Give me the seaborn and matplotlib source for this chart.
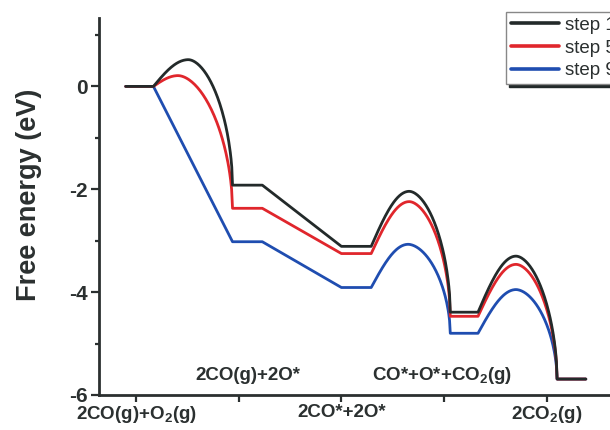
import numpy as np
import pandas as pd
import matplotlib
matplotlib.use("Agg")
import matplotlib.pyplot as plt
import seaborn as sns

# ---- data ----
steps = ["step 1", "step 5", "step 9"]
level_start = [-0.10, 0.94, 2.00, 3.06, 4.10]
level_end = [0.17, 1.23, 2.29, 3.33, 4.38]
energy_step1 = [0.0, -1.92, -3.11, -4.39, -5.69]
energy_step5 = [0.0, -2.37, -3.25, -4.47, -5.69]
energy_step9 = [0.0, -3.02, -3.91, -4.80, -5.69]
ts_x_step1 = [0.51, None, 2.66, 3.70]
ts_e_step1 = [0.52, None, -2.04, -3.30]
ts_x_step5 = [0.41, None, 2.66, 3.70]
ts_e_step5 = [0.21, None, -2.24, -3.46]
ts_x_step9 = [None, None, 2.65, 3.70]
ts_e_step9 = [None, None, -3.07, -3.95]
xtick_pos = [0, 1, 2, 3, 4]
xtick_labels = ["2CO(g)+O$_2$(g)", "", "2CO*+2O*", "", "2CO$_2$(g)"]
annotations = ["2CO(g)+2O*", "CO*+O*+CO$_2$(g)"]
annotation_x = [1.09, 2.98]
annotation_y = [-5.62, -5.62]
colors = ["#232a2a", "#e0262c", "#1f4db0"]


def barrier(x0, y0, xp, yp, x1, y1, n=60):
    """Smooth connector (spline-like) through a transition state."""
    t = np.linspace(0, 1, n)
    xl = x0 + (xp - x0) * t
    yl = y0 + (yp - y0) * np.sin(t * np.pi / 2)
    p = 1.8
    xr = xp + (x1 - xp) * t
    yr = yp - (yp - y1) * (1 - (1 - t ** p) ** (1 / p))
    return np.concatenate([xl, xr[1:]]), np.concatenate([yl, yr[1:]])


def build(energies, tsx, tse, name):
    xs, ys = [], []
    for i, e in enumerate(energies):
        xs += [level_start[i], level_end[i]]
        ys += [e, e]
        if i < len(energies) - 1 and tsx[i] is not None:
            bx, by = barrier(level_end[i], e, tsx[i], tse[i],
                             level_start[i + 1], energies[i + 1])
            xs += list(bx[1:-1])
            ys += list(by[1:-1])
    return pd.DataFrame({"x": xs, "y": ys, "step": name, "order": range(len(xs))})


df = pd.concat([
    build(energy_step1, ts_x_step1, ts_e_step1, steps[0]),
    build(energy_step5, ts_x_step5, ts_e_step5, steps[1]),
    build(energy_step9, ts_x_step9, ts_e_step9, steps[2]),
], ignore_index=True)

sns.set_style("ticks")
plt.rcParams["font.family"] = ["Liberation Sans", "DejaVu Sans"]
plt.rcParams["mathtext.fontset"] = "custom"
plt.rcParams["mathtext.rm"] = "Liberation Sans:bold"
plt.rcParams["mathtext.it"] = "Liberation Sans:bold"
plt.rcParams["mathtext.bf"] = "Liberation Sans:bold"

ink = "#2b3030"
fig = plt.figure(figsize=(6.1, 4.3), dpi=100)
ax = fig.add_axes([99 / 610, 1 - 395 / 430, 1 - 99 / 610, (395 - 18) / 430])

sns.lineplot(data=df, x="x", y="y", hue="step", hue_order=steps,
             palette=colors, sort=False, estimator=None, linewidth=2.0,
             ax=ax, legend=True)
for line, z in zip(ax.lines, [5, 4, 3]):
    line.set_zorder(z)
    line.set_solid_joinstyle("round")

ax.set_xlim(-0.36, 4.615)
ax.set_ylim(-6, 1.33)
ax.set_xticks(xtick_pos)
ax.set_xticklabels(xtick_labels, fontsize=13.5, fontweight="bold", color=ink)
ax.set_yticks([-6, -4, -2, 0])
ax.set_yticks([-5, -3, -1, 1], minor=True)
ax.set_yticklabels(["-6", "-4", "-2", "0"], fontsize=15, fontweight="bold", color=ink)
ax.tick_params(axis="x", direction="out", length=5, width=1.6, color=ink, pad=1.5)
ax.tick_params(axis="y", which="major", direction="out", length=6, width=1.6, color=ink, pad=2)
ax.tick_params(axis="y", which="minor", direction="out", length=3, width=1.6, color=ink)
ax.set_xlabel("")
ax.set_ylabel("Free energy (eV)", fontsize=19.5, fontweight="bold", color=ink)
ax.yaxis.set_label_coords(-0.112, 0.53)

for s in ["top", "right"]:
    ax.spines[s].set_visible(False)
for s in ["left", "bottom"]:
    ax.spines[s].set_linewidth(2.0)
    ax.spines[s].set_color(ink)

for txt, x, y in zip(annotations, annotation_x, annotation_y):
    ax.text(x, y, txt, ha="center", va="center", fontsize=13.5,
            fontweight="bold", color=ink)

handles, labels = ax.get_legend_handles_labels()
leg = ax.legend(handles, labels, loc="upper left",
                bbox_to_anchor=(506 / 610, 1 - 12 / 430),
                bbox_transform=fig.transFigure, fontsize=13.5,
                frameon=True, fancybox=False, borderpad=0.25,
                labelspacing=0.3, handlelength=2.6, handletextpad=0.3,
                borderaxespad=0, shadow={"color": "#232a2a", "alpha": 1.0})
leg.get_frame().set_edgecolor("#888888")
leg.get_frame().set_linewidth(1.0)
for h in leg.get_lines():
    h.set_linewidth(2.6)
for t in leg.get_texts():
    t.set_color(ink)

fig.savefig("out.png", dpi=100)
